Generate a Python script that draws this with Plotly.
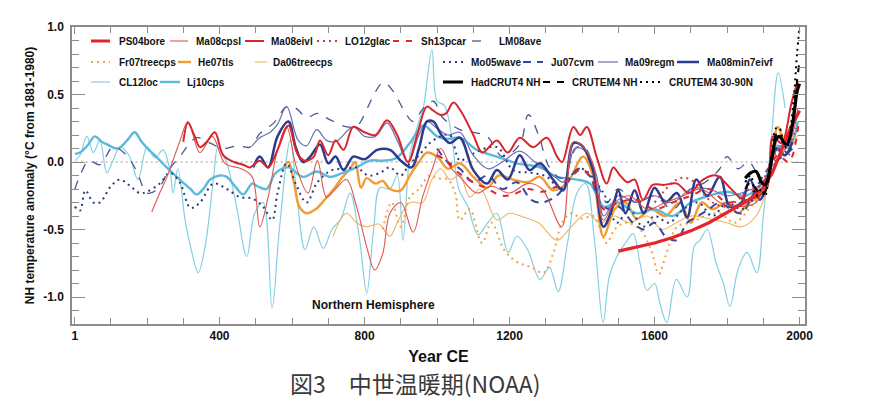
import plotly.graph_objects as go

# ---------------- data ----------------
CL12loc_year = [1, 15, 34, 52, 70, 89, 106, 125, 150, 175, 200, 222, 244, 263, 272, 285, 305, 322, 341, 360, 383, 396, 420, 447, 475, 497, 520, 545, 565, 595, 615, 636, 660, 686, 710, 735, 760, 785, 806, 825, 843, 870, 890, 906, 925, 950, 962, 986, 1000, 1020, 1040, 1060, 1085, 1113, 1140, 1165, 1196, 1220, 1250, 1284, 1310, 1334, 1360, 1386, 1410, 1435, 1458, 1475, 1496, 1520, 1541, 1560, 1579, 1600, 1615, 1634, 1660, 1690, 1710, 1725, 1745, 1770, 1790, 1808, 1830, 1855, 1882, 1900, 1920, 1941, 1960]
CL12loc_val = [0.01, 0.05, 0.19, 0.07, 0.16, -0.08, 0.01, 0.11, 0.05, -0.13, 0.11, 0.03, 0.09, -0.06, -0.23, -0.05, -0.43, -0.65, -0.82, -0.63, -0.13, 0.11, -0.01, -0.33, -0.70, -0.38, -0.30, -1.08, -0.50, 0.16, -0.30, -0.65, -0.48, -0.64, -0.50, -0.42, -0.23, -0.55, -0.97, -0.50, -0.19, -0.20, -0.10, -0.58, 0.05, 0.30, 0.40, 0.83, 0.45, 0.42, 0.20, -0.20, -0.33, -0.54, -0.45, -0.38, -0.67, -0.55, -0.65, -0.87, -0.78, -0.96, -0.60, -0.23, -0.16, -0.60, -1.19, -0.85, -0.70, -0.60, -0.53, -0.75, -0.95, -0.90, -1.05, -1.19, -0.87, -1.00, -0.62, -0.58, -0.50, -0.75, -0.90, -1.07, -0.80, -0.67, -0.82, -0.40, 0.10, 0.66, 0.40]

Lj10cps_year = [1, 15, 35, 56, 75, 90, 120, 145, 166, 185, 205, 225, 254, 290, 320, 337, 355, 374, 400, 420, 440, 465, 490, 505, 530, 555, 590, 630, 668, 705, 740, 778, 815, 851, 888, 925, 962, 1000, 1030, 1063, 1110, 1165, 1220, 1284, 1331, 1386, 1422, 1459, 1500, 1550, 1600, 1650, 1700, 1750, 1800, 1850, 1900, 1940, 1960, 1980, 1995]
Lj10cps_val = [0.06, 0.07, 0.12, 0.19, 0.15, 0.13, 0.10, 0.16, 0.22, 0.15, 0.09, 0.04, -0.04, -0.13, -0.20, -0.24, -0.20, -0.13, -0.10, -0.11, -0.17, -0.24, -0.16, -0.18, -0.20, -0.08, -0.04, -0.11, -0.07, -0.11, -0.08, -0.04, 0.01, 0.01, 0.03, 0.14, 0.27, 0.19, 0.17, 0.18, 0.09, 0.04, -0.01, -0.04, -0.11, -0.13, -0.16, -0.33, -0.30, -0.38, -0.35, -0.40, -0.30, -0.25, -0.22, -0.25, -0.15, 0.12, 0.10, 0.15, 0.30]

He07tls_year = [575, 590, 605, 620, 640, 665, 690, 715, 740, 760, 774, 790, 806, 830, 850, 870, 900, 925, 950, 972, 1000, 1030, 1063, 1100, 1138, 1170, 1210, 1250, 1284, 1320, 1360, 1403, 1430, 1459, 1490, 1520, 1550, 1590, 1630, 1670, 1700, 1730, 1760, 1800, 1830, 1860, 1890, 1920, 1940, 1960, 1980]
He07tls_val = [-0.05, 0.00, -0.15, -0.33, -0.38, -0.35, -0.28, -0.20, -0.11, -0.05, 0.00, -0.19, -0.12, -0.16, -0.14, -0.20, -0.21, -0.10, 0.00, 0.07, 0.04, -0.05, -0.01, -0.11, -0.19, -0.10, -0.13, -0.15, -0.11, -0.21, -0.15, 0.04, -0.10, -0.55, -0.35, -0.30, -0.42, -0.35, -0.40, -0.30, -0.45, -0.30, -0.35, -0.30, -0.38, -0.30, -0.25, 0.00, 0.26, 0.15, 0.20]

Da06treecps_year = [713, 750, 778, 806, 840, 870, 890, 925, 960, 986, 1010, 1036, 1063, 1090, 1120, 1165, 1200, 1240, 1280, 1331, 1370, 1413, 1450, 1490, 1530, 1580, 1620, 1660, 1700, 1750, 1800, 1840, 1880, 1910, 1940, 1970, 1995]
Da06treecps_val = [-0.55, -0.38, -0.45, -0.48, -0.46, -0.55, -0.45, -0.30, -0.30, -0.13, -0.05, -0.13, -0.10, -0.26, -0.20, -0.43, -0.38, -0.41, -0.45, -0.58, -0.48, -0.38, -0.45, -0.40, -0.45, -0.40, -0.50, -0.45, -0.40, -0.42, -0.45, -0.48, -0.40, -0.20, 0.15, 0.10, 0.20]

Fr07treecps_year = [850, 875, 900, 925, 950, 980, 1000, 1030, 1050, 1063, 1090, 1124, 1150, 1185, 1220, 1260, 1294, 1320, 1345, 1370, 1400, 1430, 1448, 1468, 1490, 1520, 1560, 1590, 1612, 1630, 1662, 1700, 1740, 1780, 1820, 1860, 1900, 1930, 1950, 1980]
Fr07treecps_val = [-0.50, -0.30, -0.48, -0.26, -0.20, -0.10, -0.12, -0.13, -0.23, -0.43, -0.35, -0.60, -0.45, -0.65, -0.74, -0.78, -0.82, -0.68, -0.45, -0.38, -0.42, -0.40, -0.48, -0.60, -0.50, -0.45, -0.50, -0.65, -0.83, -0.70, -0.48, -0.45, -0.40, -0.38, -0.45, -0.35, -0.20, 0.10, 0.20, 0.15]

LM08ave_year = [1, 15, 40, 70, 106, 140, 170, 200, 230, 260, 290, 337, 374, 410, 450, 484, 511, 550, 585, 610, 640, 670, 700, 751, 780, 806, 830, 852, 880, 905, 934, 960, 990, 1015, 1063, 1100, 1138, 1180, 1228, 1252, 1280, 1310, 1345, 1386, 1410, 1440, 1468, 1500, 1550, 1600, 1650, 1700, 1740, 1780, 1800, 1830, 1860, 1900, 1940, 1974]
LM08ave_val = [-0.20, -0.10, 0.01, -0.02, 0.11, 0.06, -0.06, -0.23, -0.20, -0.06, 0.04, 0.18, 0.14, 0.10, 0.12, 0.11, 0.21, 0.29, 0.41, 0.40, 0.33, 0.36, 0.32, 0.26, 0.27, 0.39, 0.52, 0.59, 0.52, 0.40, 0.30, 0.39, 0.45, 0.33, 0.24, 0.22, 0.19, 0.04, 0.13, 0.35, 0.20, -0.04, -0.12, 0.11, 0.10, -0.13, -0.30, -0.20, -0.30, -0.25, -0.35, -0.20, -0.15, -0.05, 0.04, -0.05, 0.00, -0.15, 0.10, 0.05]

Mo05wave_year = [1, 15, 30, 52, 70, 100, 125, 150, 180, 200, 235, 263, 290, 320, 346, 383, 420, 456, 490, 520, 545, 560, 585, 610, 640, 670, 710, 750, 778, 810, 843, 870, 900, 925, 950, 980, 1010, 1035, 1063, 1090, 1165, 1210, 1260, 1303, 1340, 1370, 1400, 1459, 1496, 1530, 1568, 1600, 1640, 1680, 1720, 1760, 1800, 1840, 1880, 1920, 1950, 1979]
Mo05wave_val = [-0.33, -0.36, -0.21, -0.30, -0.30, -0.18, -0.13, -0.17, -0.23, -0.22, -0.16, -0.08, -0.15, -0.34, -0.30, -0.16, -0.20, -0.26, -0.27, -0.33, -0.43, -0.23, -0.01, -0.16, -0.30, -0.15, -0.06, -0.05, -0.04, -0.10, -0.08, -0.04, -0.10, -0.01, 0.05, 0.14, 0.19, 0.20, 0.01, 0.05, 0.11, -0.06, -0.08, -0.11, -0.20, -0.10, -0.05, -0.23, -0.45, -0.35, -0.48, -0.40, -0.45, -0.35, -0.30, -0.40, -0.30, -0.35, -0.25, -0.10, 0.05, 0.10]

Ju07cvm_year = [1000, 1030, 1063, 1100, 1140, 1180, 1220, 1260, 1290, 1330, 1360, 1390, 1420, 1450, 1475, 1500, 1540, 1570, 1600, 1630, 1660, 1690, 1720, 1750, 1780, 1810, 1840, 1870, 1900, 1930, 1960, 1980]
Ju07cvm_val = [0.10, 0.00, -0.05, -0.15, -0.10, -0.20, -0.15, -0.28, -0.30, -0.25, -0.15, -0.05, -0.10, -0.30, -0.35, -0.33, -0.45, -0.50, -0.45, -0.55, -0.58, -0.45, -0.40, -0.35, -0.30, -0.35, -0.38, -0.25, -0.10, 0.00, 0.05, 0.10]

Ma09regm_year = [490, 511, 540, 560, 585, 617, 640, 668, 695, 720, 769, 800, 830, 862, 890, 920, 950, 972, 1000, 1030, 1063, 1100, 1140, 1180, 1228, 1270, 1320, 1350, 1380, 1410, 1440, 1460, 1500, 1550, 1600, 1650, 1700, 1750, 1800, 1850, 1900, 1940, 1980]
Ma09regm_val = [0.12, 0.18, 0.22, 0.28, 0.41, 0.16, 0.12, 0.24, 0.16, 0.15, 0.26, 0.19, 0.19, 0.29, 0.16, 0.00, 0.20, 0.30, 0.25, 0.20, 0.22, 0.05, -0.05, 0.00, 0.08, 0.00, -0.10, -0.15, 0.10, 0.08, -0.10, -0.40, -0.25, -0.30, -0.25, -0.30, -0.20, -0.20, -0.25, -0.22, -0.15, 0.10, 0.15]

Ma08min7eivf_year = [493, 511, 534, 560, 590, 610, 630, 650, 677, 700, 720, 742, 769, 800, 835, 870, 900, 930, 950, 972, 990, 1010, 1035, 1063, 1100, 1138, 1165, 1195, 1228, 1255, 1284, 1320, 1348, 1376, 1400, 1430, 1459, 1485, 1500, 1520, 1545, 1570, 1600, 1630, 1662, 1690, 1715, 1745, 1780, 1808, 1840, 1863, 1890, 1910, 1935, 1960, 1980]
Ma08min7eivf_val = [-0.04, 0.04, -0.04, 0.19, 0.30, 0.11, 0.00, 0.04, 0.13, -0.01, 0.04, -0.06, 0.04, 0.02, 0.09, 0.09, 0.01, -0.04, 0.10, 0.30, 0.30, 0.21, 0.14, 0.18, -0.06, -0.16, -0.06, -0.13, 0.05, -0.06, -0.01, -0.13, -0.21, 0.14, 0.12, -0.06, -0.48, -0.33, -0.21, -0.38, -0.21, -0.38, -0.19, -0.30, -0.23, -0.41, -0.13, -0.25, -0.11, -0.33, -0.30, -0.13, -0.28, -0.18, 0.10, 0.05, 0.15]

Ma08cpsl_year = [213, 235, 255, 290, 313, 346, 380, 415, 460, 490, 511, 534, 560, 585, 612, 644, 670, 695, 720, 750, 778, 806, 828, 850, 870, 900, 934, 960, 986, 1010, 1040, 1063, 1110, 1150, 1200, 1250, 1290, 1344, 1376, 1400, 1430, 1459, 1490, 1530, 1580, 1630, 1680, 1730, 1780, 1830, 1880, 1920, 1950, 1980, 1995]
Ma08cpsl_val = [-0.37, -0.23, -0.11, 0.15, 0.30, 0.07, 0.19, -0.01, -0.05, -0.11, -0.48, -0.26, 0.09, 0.26, -0.04, -0.23, 0.01, -0.26, -0.20, -0.13, -0.33, -0.63, -0.80, -0.68, -0.38, -0.30, -0.52, -0.26, -0.06, 0.10, -0.05, -0.11, -0.23, -0.18, -0.23, -0.16, -0.20, -0.48, 0.15, 0.12, -0.01, -0.43, -0.30, -0.25, -0.35, -0.30, -0.25, -0.20, -0.30, -0.33, -0.30, -0.05, 0.05, 0.20, 0.40]

Ma08eivl_year = [300, 313, 330, 346, 365, 387, 410, 440, 465, 484, 511, 534, 560, 590, 615, 635, 660, 677, 700, 720, 742, 769, 800, 830, 862, 890, 920, 945, 972, 990, 1008, 1025, 1045, 1065, 1100, 1125, 1165, 1195, 1228, 1265, 1303, 1331, 1345, 1376, 1395, 1413, 1440, 1468, 1486, 1505, 1525, 1545, 1568, 1595, 1625, 1662, 1695, 1734, 1770, 1808, 1845, 1880, 1910, 1927, 1950, 1978, 1995]
Ma08eivl_val = [0.15, 0.29, 0.20, 0.11, 0.15, 0.22, 0.05, 0.00, -0.02, -0.04, 0.01, -0.04, 0.09, 0.27, 0.06, 0.01, 0.04, 0.16, 0.05, 0.16, 0.09, 0.26, 0.22, 0.20, 0.31, 0.20, 0.00, 0.20, 0.41, 0.38, 0.35, 0.36, 0.44, 0.38, 0.20, 0.07, 0.16, 0.07, 0.18, 0.11, 0.18, 0.04, 0.00, 0.26, 0.20, 0.26, 0.04, -0.16, -0.04, -0.10, -0.15, -0.13, -0.28, -0.17, -0.17, -0.16, -0.23, -0.13, -0.10, -0.19, -0.28, -0.26, -0.19, 0.19, 0.14, 0.44, 0.60]

Sh13pcar_year = [1000, 1020, 1045, 1070, 1100, 1140, 1180, 1210, 1250, 1290, 1330, 1370, 1400, 1430, 1460, 1500, 1550, 1600, 1650, 1700, 1750, 1800, 1850, 1900, 1940, 1970, 1998]
Sh13pcar_val = [0.05, 0.02, -0.05, -0.10, -0.15, -0.20, -0.25, -0.24, -0.20, -0.22, -0.18, -0.11, -0.05, -0.15, -0.35, -0.30, -0.28, -0.35, -0.30, -0.25, -0.20, -0.30, -0.25, -0.15, 0.05, 0.00, 0.30]

LO12glac_year = [1600, 1625, 1650, 1670, 1690, 1710, 1730, 1760, 1800, 1830, 1860, 1890, 1920, 1950, 1975, 1990]
LO12glac_val = [-0.30, -0.22, -0.15, -0.12, -0.12, -0.15, -0.22, -0.30, -0.33, -0.28, -0.20, -0.18, 0.00, 0.12, 0.15, 0.25]

PS04bore_year = [1500, 1550, 1600, 1650, 1700, 1750, 1790, 1820, 1855, 1880, 1900, 1925, 1950, 1975, 2000]
PS04bore_val = [-0.66, -0.63, -0.60, -0.56, -0.51, -0.45, -0.39, -0.34, -0.29, -0.24, -0.19, -0.08, 0.08, 0.25, 0.38]

HadCRUT4_year = [1850, 1865, 1880, 1895, 1905, 1915, 1925, 1935, 1945, 1955, 1965, 1975, 1985, 1993, 2000]
HadCRUT4_val = [-0.12, -0.08, -0.07, -0.15, -0.17, -0.10, 0.05, 0.17, 0.19, 0.15, 0.13, 0.20, 0.36, 0.52, 0.58]

CRUTEM4NH_year = [1850, 1865, 1880, 1895, 1905, 1915, 1925, 1935, 1945, 1955, 1965, 1975, 1985, 1993, 2000]
CRUTEM4NH_val = [-0.20, -0.15, -0.20, -0.25, -0.22, -0.12, 0.05, 0.20, 0.20, 0.15, 0.12, 0.20, 0.40, 0.60, 0.75]

CRUTEM4_3090_year = [1850, 1865, 1880, 1895, 1905, 1915, 1925, 1935, 1945, 1955, 1965, 1975, 1985, 1993, 2000]
CRUTEM4_3090_val = [-0.15, -0.10, -0.25, -0.20, -0.25, -0.10, 0.10, 0.25, 0.25, 0.15, 0.10, 0.25, 0.50, 0.80, 1.00]

x_tick_vals = [1, 400, 800, 1200, 1600, 2000]
x_tick_text = ["1", "400", "800", "1200", "1600", "2000"]
y_tick_vals = [-1.0, -0.5, 0.0, 0.5, 1.0]
y_tick_text = ["-1.0", "-0.5", "0.0", "0.5", "1.0"]

# ---------------- styles ----------------
DOT = "2px,4px"
STY = {
    "PS04bore":        dict(color="#e3242b", width=3.2, dash="solid"),
    "Ma08cpsl":        dict(color="#dc5650", width=1.1, dash="solid"),
    "Ma08eivl":        dict(color="#d8262d", width=2.0, dash="solid"),
    "LO12glac":        dict(color="#dc3a36", width=2.0, dash=DOT),
    "Sh13pcar":        dict(color="#e2262c", width=2.0, dash="6px,7px"),
    "LM08ave":         dict(color="#4b5690", width=1.3, dash="9px,9px"),
    "Fr07treecps":     dict(color="#f2a444", width=2.0, dash=DOT),
    "He07tls":         dict(color="#f29b30", width=2.4, dash="solid"),
    "Da06treecps":     dict(color="#f0b462", width=1.1, dash="solid"),
    "CL12loc":         dict(color="#84d0e2", width=1.2, dash="solid"),
    "Lj10cps":         dict(color="#5cb9d9", width=2.4, dash="solid"),
    "Mo05wave":        dict(color="#2f3b7c", width=2.0, dash=DOT),
    "Ju07cvm":         dict(color="#3448a2", width=2.0, dash="8px,6px"),
    "Ma09regm":        dict(color="#6870b0", width=1.2, dash="solid"),
    "Ma08min7eivf":    dict(color="#2c3a8f", width=2.5, dash="solid"),
    "HadCRUT4 NH":     dict(color="#000000", width=3.2, dash="solid"),
    "CRUTEM4 NH":      dict(color="#000000", width=2.0, dash="7px,7px"),
    "CRUTEM4 30-90N":  dict(color="#000000", width=2.0, dash=DOT),
}

SERIES = [
    ("CL12loc", CL12loc_year, CL12loc_val),
    ("Da06treecps", Da06treecps_year, Da06treecps_val),
    ("Fr07treecps", Fr07treecps_year, Fr07treecps_val),
    ("He07tls", He07tls_year, He07tls_val),
    ("Lj10cps", Lj10cps_year, Lj10cps_val),
    ("LM08ave", LM08ave_year, LM08ave_val),
    ("Mo05wave", Mo05wave_year, Mo05wave_val),
    ("Ju07cvm", Ju07cvm_year, Ju07cvm_val),
    ("Ma09regm", Ma09regm_year, Ma09regm_val),
    ("Ma08min7eivf", Ma08min7eivf_year, Ma08min7eivf_val),
    ("Ma08cpsl", Ma08cpsl_year, Ma08cpsl_val),
    ("Sh13pcar", Sh13pcar_year, Sh13pcar_val),
    ("LO12glac", LO12glac_year, LO12glac_val),
    ("Ma08eivl", Ma08eivl_year, Ma08eivl_val),
    ("PS04bore", PS04bore_year, PS04bore_val),
    ("CRUTEM4 30-90N", CRUTEM4_3090_year, CRUTEM4_3090_val),
    ("CRUTEM4 NH", CRUTEM4NH_year, CRUTEM4NH_val),
    ("HadCRUT4 NH", HadCRUT4_year, HadCRUT4_val),
]

FONT = "Liberation Sans, Arial, Helvetica, sans-serif"
OFF = 8  # page body margin of the browser
W, H = 895 - OFF, 402 - OFF
L, R, T, B = 72, 805, 27, 324  # plot area in reference-page px

fig = go.Figure()
for name, xs, ys in SERIES:
    s = STY[name]
    fig.add_trace(go.Scatter(
        x=xs, y=ys, name=name, mode="lines",
        line=dict(color=s["color"], width=s["width"], dash=s["dash"],
                  shape="linear" if name == "PS04bore" else "spline", smoothing=1.0),
        showlegend=False, hoverinfo="name+x+y"))

# ---------------- custom in-plot legend ----------------
def px2paper(x, y):
    return (x - L) / (R - L), (B - y) / (B - T)

LEG = [
    # name, line x0, line x1, text x, row y (px)
    ("PS04bore", 91, 110, 117, 41), ("Ma08cpsl", 170, 188, 194, 41),
    ("Ma08eivl", 245, 264, 269, 41), ("LO12glac", 317, 337, 343, 41),
    ("Sh13pcar", 393, 413, 419, 41), ("LM08ave", 472, 490, 497, 41),
    ("Fr07treecps", 91, 110, 117, 62), ("He07tls", 178, 191, 196, 62),
    ("Da06treecps", 255, 267, 271, 62), ("Mo05wave", 443, 463, 469, 62),
    ("Ju07cvm", 523, 543, 549, 62), ("Ma09regm", 598, 618, 623, 62),
    ("Ma08min7eivf", 677, 699, 705, 62),
    ("CL12loc", 91, 110, 117, 82), ("Lj10cps", 160, 180, 185, 82),
    ("HadCRUT4 NH", 443, 463, 469, 82), ("CRUTEM4 NH", 543, 565, 570, 82),
    ("CRUTEM4 30-90N", 640, 662, 667, 82),
]
shapes = []
annots = []
for name, x0, x1, tx, ry in LEG:
    s = STY[name]
    a0, b0 = px2paper(x0, ry)
    a1, _ = px2paper(x1, ry)
    shapes.append(dict(type="line", xref="paper", yref="paper", x0=a0, x1=a1, y0=b0, y1=b0,
                       line=dict(color=s["color"], width=min(s["width"], 3), dash=s["dash"])))
    ta, tb = px2paper(tx, ry)
    annots.append(dict(xref="paper", yref="paper", x=ta, y=tb, xanchor="left", yanchor="middle",
                       text=name, showarrow=False,
                       font=dict(family=FONT, size=10, color="#111111", weight="bold")))

# zero reference line (gray dotted)
shapes.append(dict(type="line", xref="paper", yref="y", x0=0.005, x1=0.995, y0=0, y1=0,
                   line=dict(color="#9a9a9a", width=1, dash="2px,3px"), layer="below"))

annots.append(dict(xref="x", yref="y", x=826, y=-1.06, text="Northern Hemisphere",
                   showarrow=False, xanchor="center", yanchor="middle",
                   font=dict(family=FONT, size=12, color="#111111", weight="bold")))
annots.append(dict(xref="paper", yref="paper", x=(415 - L) / (R - L), y=(B - 383) / (B - T),
                   text="図3　中世温暖期(NOAA)", showarrow=False, xanchor="center", yanchor="middle",
                   font=dict(family="Noto Sans CJK JP, Noto Sans CJK SC, sans-serif", size=23, color="#3a3a3a")))

axis_common = dict(showline=True, linecolor="#8c8c8c", linewidth=1.5, mirror="ticks",
                   ticks="inside", tickcolor="#8c8c8c", tickwidth=1.2, showgrid=False,
                   zeroline=False, automargin=False,
                   tickfont=dict(family=FONT, size=12, color="#111111", weight="bold"))

fig.update_layout(
    width=W, height=H,
    margin=dict(l=L - OFF, r=(895 - R), t=T - OFF, b=(402 - B), pad=0, autoexpand=False),
    paper_bgcolor="white", plot_bgcolor="white",
    font=dict(family=FONT),
    showlegend=False,
    shapes=shapes, annotations=annots,
    xaxis=dict(range=[-7, 2015], tickvals=x_tick_vals, ticktext=x_tick_text, ticklen=7,
               minor=dict(tickvals=[v for v in range(100, 2000, 100) if v % 400 != 0],
                          ticklen=6, ticks="inside", tickcolor="#8c8c8c"),
               title=dict(text="Year CE", standoff=9,
                          font=dict(family=FONT, size=16, color="#111111", weight="bold")),
               **axis_common),
    yaxis=dict(range=[-1.2, 1.0], tickvals=y_tick_vals, ticktext=y_tick_text, ticklen=13,
               ticklabelstandoff=4,
               minor=dict(dtick=0.1, tick0=0, ticklen=7, ticks="inside", tickcolor="#8c8c8c"),
               title=dict(text="NH temperature anomaly (°C from 1881-1980)", standoff=6,
                          font=dict(family=FONT, size=12, color="#111111", weight="bold")),
               **axis_common),
)

fig.write_html("out.html")
